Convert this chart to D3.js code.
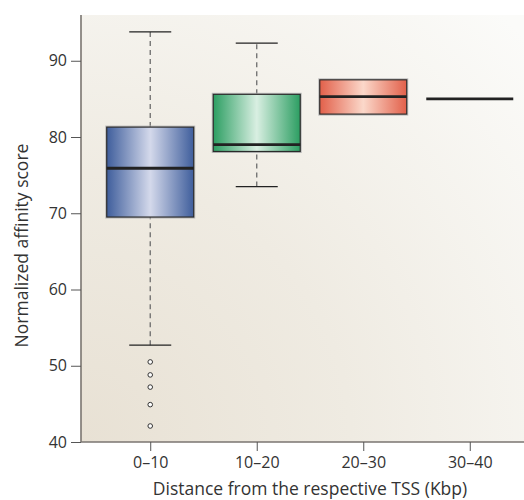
<!DOCTYPE html>
<html>
<head>
<meta charset="utf-8">
<script src="https://cdn.jsdelivr.net/npm/d3@7"></script>
<style>
  body { margin: 0; background: #fff; }
  text { font-family: "Open Sans", "Lato", sans-serif; fill: #333; }
</style>
</head>
<body>
<div id="chart"></div>
<script>
// categories and box statistics
const categories = ['0–10', '10–20', '20–30', '30–40'];
const whiskerLow = [52.7, 73.5, null, null];
const q1 = [69.5, 78.1, 83.0, 85.0];
const medians = [75.9, 79.0, 85.3, 85.0];
const q3 = [81.3, 85.6, 87.5, 85.0];
const whiskerHigh = [93.8, 92.3, null, null];
const outliers = [[50.5, 48.8, 47.2, 44.9, 42.1], [], [], []];
const yTicks = [40, 50, 60, 70, 80, 90];

const palette = [
  {edge: '#3f5e9c', mid: '#d4d9eb'},
  {edge: '#2c9e62', mid: '#d9efe2'},
  {edge: '#e2604a', mid: '#fbd8ca'},
  {edge: '#555', mid: '#555'},
];

const width = 524;
const height = 500;
const margin = {top: 15, right: -15, bottom: 58, left: 81};
const innerW = width - margin.left - margin.right;
const innerH = height - margin.top - margin.bottom;

const svg = d3.select('#chart').append('svg')
  .attr('width', width)
  .attr('height', height);

const defs = svg.append('defs');

const bg = defs.append('radialGradient')
  .attr('id', 'bg')
  .attr('gradientUnits', 'userSpaceOnUse')
  .attr('cx', margin.left).attr('cy', margin.top + innerH)
  .attr('r', 600);
bg.append('stop').attr('offset', '0%').attr('stop-color', '#e8e1d4');
bg.append('stop').attr('offset', '45%').attr('stop-color', '#efebe2');
bg.append('stop').attr('offset', '100%').attr('stop-color', '#fbfbf9');

palette.forEach((p, i) => {
  const lg = defs.append('linearGradient').attr('id', `box${i}`)
    .attr('x1', '0%').attr('x2', '100%').attr('y1', '0%').attr('y2', '0%');
  lg.append('stop').attr('offset', '0%').attr('stop-color', p.edge);
  lg.append('stop').attr('offset', '50%').attr('stop-color', p.mid);
  lg.append('stop').attr('offset', '100%').attr('stop-color', p.edge);
});

const g = svg.append('g')
  .attr('transform', `translate(${margin.left},${margin.top})`);

// plot background
g.append('rect')
  .attr('x', 0).attr('y', 0)
  .attr('width', innerW).attr('height', innerH)
  .attr('fill', 'url(#bg)')
  .attr('transform', `translate(${-margin.left},${-margin.top})`)
  .attr('x', margin.left).attr('y', margin.top);

const x = d3.scalePoint().domain(categories).range([0, innerW]).padding(0.65);
const y = d3.scaleLinear().domain([40, 96]).range([innerH, 0]);

const boxW = 87;
const capW = 42;

const data = categories.map((c, i) => ({
  cat: c, i,
  lo: whiskerLow[i], q1: q1[i], med: medians[i], q3: q3[i], hi: whiskerHigh[i],
  out: outliers[i],
}));

const boxes = g.selectAll('.box').data(data).enter().append('g')
  .attr('class', 'box')
  .attr('transform', d => `translate(${x(d.cat)},0)`);

// whiskers
boxes.filter(d => d.hi != null).each(function (d) {
  const s = d3.select(this);
  [[d.q3, d.hi], [d.lo, d.q1]].forEach(([a, b]) => {
    s.append('line')
      .attr('x1', 0).attr('x2', 0)
      .attr('y1', y(a)).attr('y2', y(b))
      .attr('stroke', '#6b6b6b').attr('stroke-width', 1.3)
      .attr('stroke-dasharray', '5,4');
  });
  [d.hi, d.lo].forEach(v => {
    s.append('line')
      .attr('x1', -capW / 2).attr('x2', capW / 2)
      .attr('y1', y(v)).attr('y2', y(v))
      .attr('stroke', '#222').attr('stroke-width', 1.2);
  });
});

// boxes
boxes.filter(d => d.q3 > d.q1).append('rect')
  .attr('x', -boxW / 2 - 1).attr('width', boxW + 2)
  .attr('y', d => y(d.q3) - 1).attr('height', d => y(d.q1) - y(d.q3) + 2)
  .attr('fill', 'none').attr('stroke', '#bbb').attr('stroke-width', 1);

boxes.filter(d => d.q3 > d.q1).append('rect')
  .attr('x', -boxW / 2).attr('width', boxW)
  .attr('y', d => y(d.q3)).attr('height', d => y(d.q1) - y(d.q3))
  .attr('fill', d => `url(#box${d.i})`)
  .attr('stroke', '#2a2a2a').attr('stroke-width', 1.2);

// medians
boxes.append('line')
  .attr('x1', -boxW / 2).attr('x2', boxW / 2)
  .attr('y1', d => y(d.med)).attr('y2', d => y(d.med))
  .attr('stroke', '#222').attr('stroke-width', 2.8);

// outliers
boxes.selectAll('.out').data(d => d.out).enter().append('circle')
  .attr('class', 'out')
  .attr('cx', 0).attr('cy', v => y(v)).attr('r', 2.3)
  .attr('fill', '#fff').attr('stroke', '#333').attr('stroke-width', 1);

// axes
const yAxis = g.append('g')
  .call(d3.axisLeft(y).tickValues(yTicks).tickSize(10).tickPadding(4));
const xAxis = g.append('g')
  .attr('transform', `translate(0,${innerH})`)
  .call(d3.axisBottom(x).tickSize(9).tickPadding(6));

[yAxis, xAxis].forEach(a => {
  a.select('.domain').attr('stroke', '#7a7570').attr('stroke-width', 1.6);
  a.selectAll('.tick line').attr('stroke', '#555');
  a.selectAll('.tick text').style('font-size', '16px').attr('fill', '#3a3a3a');
});
yAxis.select('.domain').attr('d', `M0,0V${innerH}`);
xAxis.select('.domain').attr('d', `M0,0H${innerW}`);

g.append('text')
  .attr('x', 0).attr('y', 0)
  .attr('transform', `translate(${-53},${innerH / 2 + 17}) rotate(-90)`)
  .attr('text-anchor', 'middle')
  .style('font-size', '17.5px')
  .attr('fill', '#3a3a3a')
  .text('Normalized affinity score');

g.append('text')
  .attr('x', x(categories[0]) + (x(categories[3]) - x(categories[0])) / 2)
  .attr('y', innerH + 53)
  .attr('text-anchor', 'middle')
  .style('font-size', '17.5px')
  .attr('fill', '#3a3a3a')
  .text('Distance from the respective TSS (Kbp)');
</script>
</body>
</html>
